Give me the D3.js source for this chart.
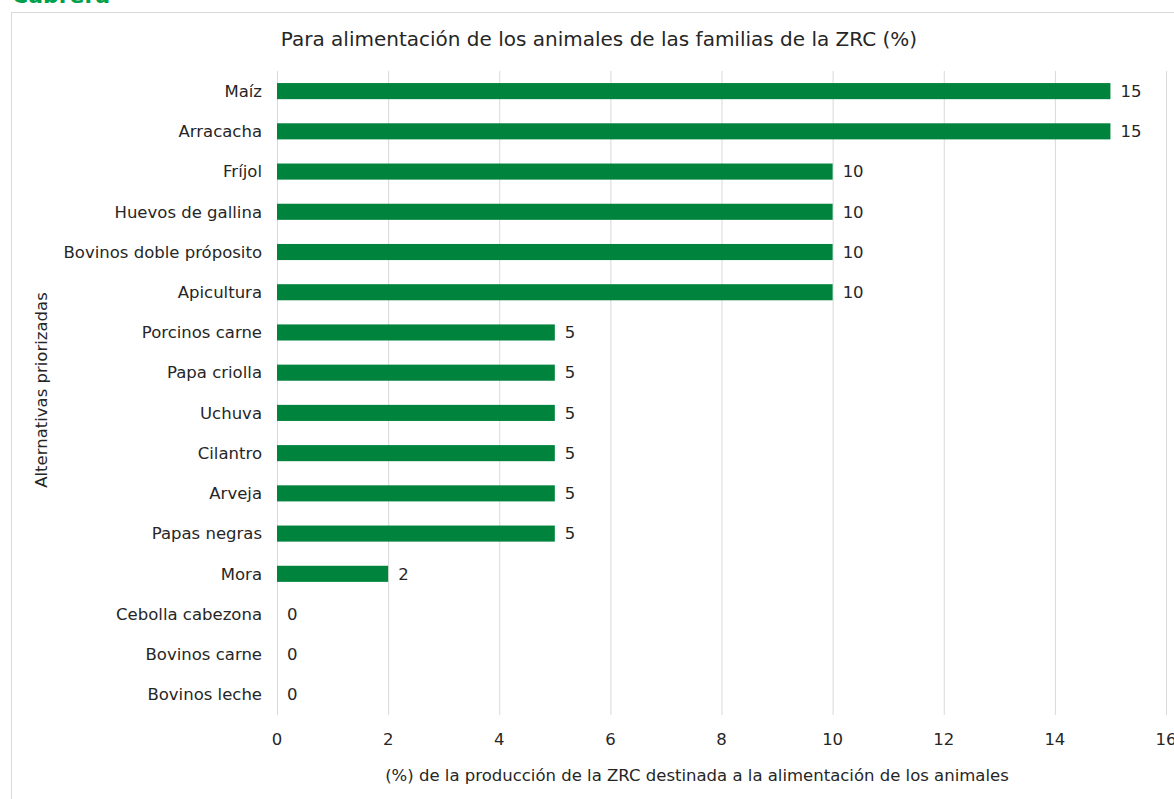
<!DOCTYPE html>
<html><head><meta charset="utf-8">
<script src="https://cdn.jsdelivr.net/npm/d3@7"></script>
<style>body{margin:0;background:#fff}svg{display:block}text{font-family:"DejaVu Sans",Verdana,sans-serif}</style>
</head><body><svg id="c" width="1174" height="799"></svg>
<script>
const categories = ["Maíz","Arracacha","Fríjol","Huevos de gallina","Bovinos doble próposito","Apicultura","Porcinos carne","Papa criolla","Uchuva","Cilantro","Arveja","Papas negras","Mora","Cebolla cabezona","Bovinos carne","Bovinos leche"];
const values = [15,15,10,10,10,10,5,5,5,5,5,5,2,0,0,0];
const xTicks = [0,2,4,6,8,10,12,14,16];
const title = "Para alimentación de los animales de las familias de la ZRC (%)";
const xTitle = "(%) de la producción de la ZRC destinada a la alimentación de los animales";
const yTitle = "Alternativas priorizadas";

const svg = d3.select("#c");
const fc = "#262626";
const fs = 16.5;
svg.append("text").attr("x",12).attr("y",3).attr("fill","#00a04a").attr("font-size",22).attr("font-weight","bold").text("Cabrera");
svg.append("rect").attr("x",11.5).attr("y",12.5).attr("width",1180).attr("height",800).attr("fill","#fff").attr("stroke","#d9d9d9");

const x = d3.scaleLinear().domain([0,16]).range([277,1166]);
const y = d3.scaleBand().domain(categories).range([71,714.6]).paddingInner(0.6).paddingOuter(0.3);

const g = svg.append("g");
g.selectAll("line.grid").data(xTicks).join("line").attr("class","grid")
 .attr("x1",d=>x(d)+0.5).attr("x2",d=>x(d)+0.5).attr("y1",71).attr("y2",715).attr("stroke","#d9d9d9");

g.selectAll("rect.bar").data(values).join("rect").attr("class","bar")
 .attr("x",x(0)).attr("y",(d,i)=>y(categories[i])).attr("width",d=>x(d)-x(0)).attr("height",y.bandwidth()).attr("fill","#00843d");

g.selectAll("text.val").data(values).join("text").attr("class","val")
 .attr("x",d=>x(d)+10).attr("y",(d,i)=>y(categories[i])+y.bandwidth()/2).attr("dy","0.35em")
 .attr("font-size",fs).attr("fill",fc).text(d=>d);

g.selectAll("text.cat").data(categories).join("text").attr("class","cat")
 .attr("x",262).attr("y",d=>y(d)+y.bandwidth()/2).attr("dy","0.35em").attr("text-anchor","end")
 .attr("font-size",fs).attr("fill",fc).text(d=>d);

g.selectAll("text.xt").data(xTicks).join("text").attr("class","xt")
 .attr("x",d=>x(d)).attr("y",745).attr("text-anchor","middle").attr("font-size",fs).attr("fill",fc).text(d=>d);

svg.append("text").attr("x",599).attr("y",46).attr("text-anchor","middle").attr("font-size",20).attr("fill",fc).text(title);
svg.append("text").attr("x",697).attr("y",781).attr("text-anchor","middle").attr("font-size",fs).attr("fill",fc).text(xTitle);
svg.append("text").attr("transform","translate(47,390) rotate(-90)").attr("text-anchor","middle").attr("font-size",fs).attr("fill",fc).text(yTitle);
</script></body></html>
